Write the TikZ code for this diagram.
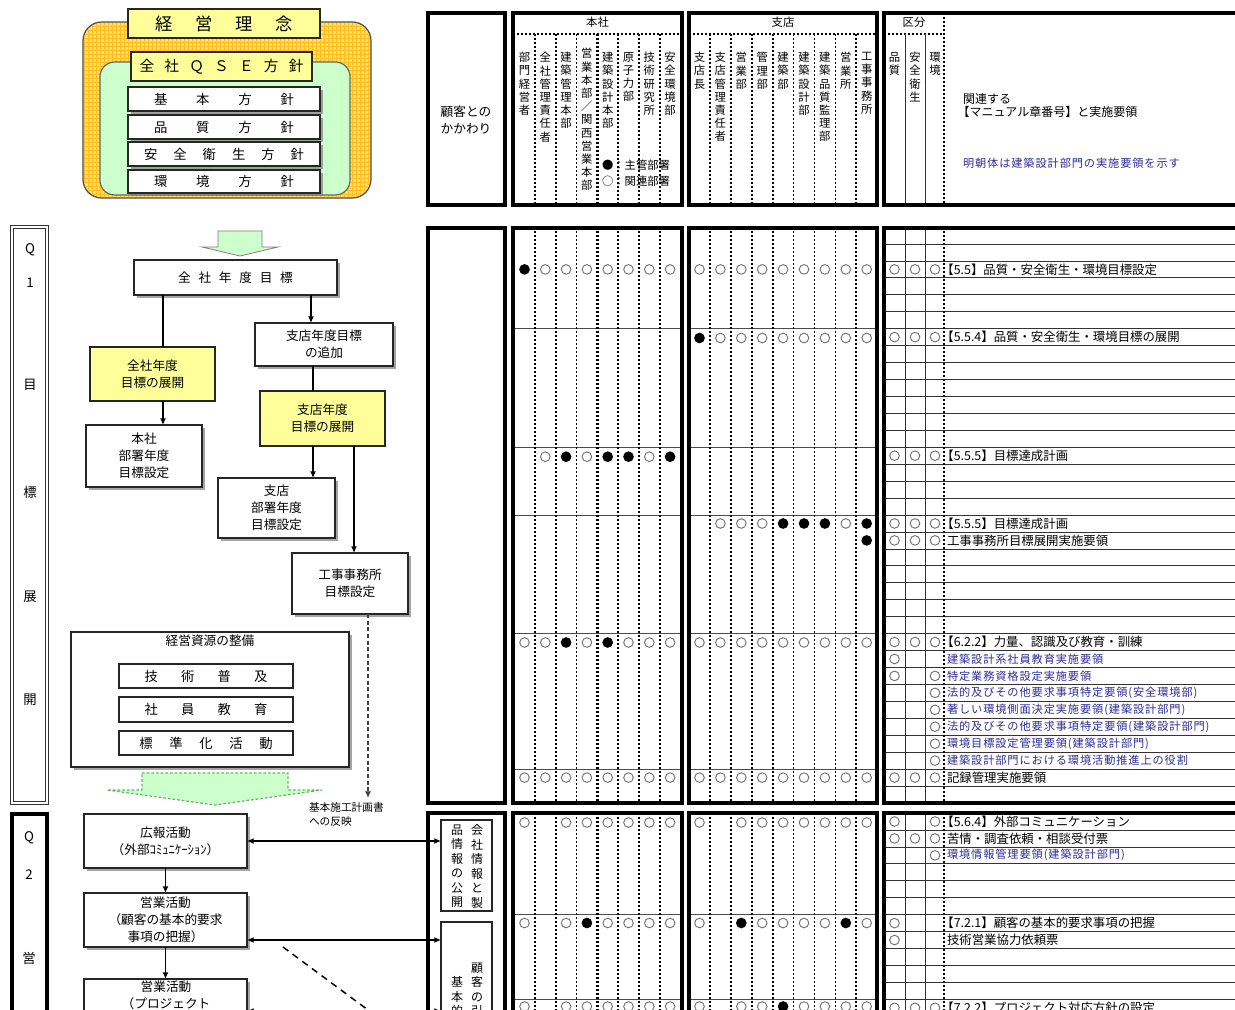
\documentclass[tikz,border=0pt]{standalone}
\usepackage{fontspec}
\setmainfont{Noto Sans CJK JP}
\newfontfamily\bluefam[LetterSpace=8]{Noto Sans CJK JP}
\usetikzlibrary{shadows,arrows.meta,patterns}
\definecolor{ylw}{RGB}{255,255,153}
\definecolor{orgf}{RGB}{255,222,110}
\definecolor{orgl}{RGB}{255,190,30}
\definecolor{lgrn}{RGB}{204,255,204}
\definecolor{dgrn}{RGB}{100,180,100}
\definecolor{btxt}{RGB}{45,45,150}
\newcommand\zzT{\fontsize{13}{15}\selectfont}
\newcommand\zzQ{\fontsize{11}{13}\selectfont}
\newcommand\zzP{\fontsize{10}{12}\selectfont}
\newcommand\zzF{\fontsize{9.5}{12.6}\selectfont}
\newcommand\zzV{\fontsize{8.5}{9.9}\selectfont}
\newcommand\zzR{\fontsize{9.3}{11}\selectfont}
\newcommand\zzB{\bluefam\fontsize{8.4}{10}\selectfont\color{btxt}}
\newcommand\zzS{\fontsize{8}{10.5}\selectfont}
\newcommand\zzL{\hspace*{-0.45em}}
\newcommand\mkbox[7]{%
  \pgfmathsetmacro\mkw{(#4-#2)*0.75}%
  \pgfmathsetmacro\mkh{(#5-#3)*0.75}%
  \node[#6, minimum width=\mkw pt, minimum height=\mkh pt, align=center] (#1) at ({(#2+#4)/2},{(#3+#5)/2}) {#7};}
\newcommand\hcirc[3]{%
  \foreach \t [count=\i] in {#2} {%
    \ifnum\t=1 \draw[oc] ({524.5+20.8*(\i-1)},#1) circle[radius=3.6pt];\fi
    \ifnum\t=2 \fill ({524.5+20.8*(\i-1)},#1) circle[radius=4pt];\fi}%
  \foreach \t [count=\i] in {#3} {%
    \ifnum\t=1 \draw[oc] ({699.5+20.9*(\i-1)},#1) circle[radius=3.6pt];\fi
    \ifnum\t=2 \fill ({699.5+20.9*(\i-1)},#1) circle[radius=4pt];\fi}}
\newcommand\rr[6]{%
  \pgfmathsetmacro\ry{#1+(#2+0.5)*16.94}%
  \ifnum#3=1 \draw[oc] (894.5,\ry) circle[radius=3.6pt];\fi
  \ifnum#4=1 \draw[oc] (915,\ry) circle[radius=3.6pt];\fi
  \ifnum#5=1 \draw[oc] (935,\ry) circle[radius=3.6pt];\fi
  \node[anchor=west,font=\zzR] at (947,\ry) {#6};}
\newcommand\mgrid[2]{%
  \foreach \k in {0,1,2,3,4,5,6} {\draw[dotv] ({535+20.8*\k},#1) -- ({535+20.8*\k},#2);}
  \draw[dotw] (535,#1) -- (535,#2);
  \draw[dotw] (597.4,#1) -- (597.4,#2);
  \foreach \k in {0,1,2,3,4,5,6,7} {\draw[dotv] ({710+20.9*\k},#1) -- ({710+20.9*\k},#2);}
  \draw[gl] (905,#1) -- (905,#2);
  \draw[gl] (925,#1) -- (925,#2);}
\begin{document}
\begin{tikzpicture}[x=0.75pt,y=-0.75pt,
  every node/.style={inner sep=0pt,outer sep=0pt},
  shad/.style={drop shadow={shadow xshift=2.5pt,shadow yshift=-2.5pt,fill=black!50,opacity=0.7}},
  fbox/.style={draw=black!85,line width=0.9pt,fill=white,shad},
  ybox/.style={draw=black!85,line width=0.9pt,fill=ylw},
  pbox/.style={draw=black!85,line width=0.9pt,fill=white},
  tbox/.style={draw=black,line width=2.6pt},
  dotv/.style={line width=1.3pt,dash pattern=on 1.4pt off 1.6pt},
  dotw/.style={line width=2pt,dash pattern=on 1.6pt off 1.4pt},
  gl/.style={line width=0.5pt,draw=black!80},
  oc/.style={draw=black!55,line width=0.7pt},
  arr/.style={line width=1pt,-{Latex[length=5pt,width=4.5pt]}},
  darr/.style={line width=1pt,{Latex[length=5pt,width=4.5pt]}-{Latex[length=5pt,width=4.5pt]}},
  ln/.style={line width=1pt}]
\fill[white] (0,0) rectangle (1235,1010);
\useasboundingbox (0,0) rectangle (1235,1010);
\clip (0,0) rectangle (1235,1010);

% ---------- policy block ----------
\draw[draw=black!70,line width=0.9pt,fill=orgf,rounded corners=14pt] (83,22) rectangle (371,198);
\fill[pattern=grid,pattern color=orgl,rounded corners=14pt] (84,23) rectangle (370,197);
\draw[draw=black!60,line width=0.9pt,fill=lgrn,rounded corners=11pt] (100,62) rectangle (350,195);
\mkbox{rinen}{128}{9}{320}{38}{ybox,font=\zzT}{\makebox[103pt]{経\hfill 営\hfill 理\hfill 念}}
\mkbox{qse}{131}{52}{312}{81}{ybox,font=\zzQ}{\makebox[123pt]{全\hfill 社\hfill Ｑ\hfill Ｓ\hfill Ｅ\hfill 方\hfill 針}}
\mkbox{kihon}{128}{87}{320}{111}{fbox,font=\zzP}{\makebox[105pt]{基\hfill 本\hfill 方\hfill 針}}
\mkbox{hinshitsu}{128}{115}{320}{139}{fbox,font=\zzP}{\makebox[105pt]{品\hfill 質\hfill 方\hfill 針}}
\mkbox{anzen}{128}{142}{320}{166}{fbox,font=\zzP}{\makebox[120pt]{安\hfill 全\hfill 衛\hfill 生\hfill 方\hfill 針}}
\mkbox{kankyo}{128}{170}{320}{193}{fbox,font=\zzP}{\makebox[105pt]{環\hfill 境\hfill 方\hfill 針}}

% ---------- header tables ----------
\node[font=\zzF,align=center] (kokyaku) at (466,120) {顧客との\\かかわり};
\node[font=\zzV] (hhon) at (597.5,22) {本社};
\node[font=\zzV] (hshi) at (783,22) {支店};
\node[font=\zzV] (hkub) at (914,22) {区分};
\draw[dotv] (513,34) -- (682,34);
\draw[dotv] (689,34) -- (877,34);
\draw[dotv] (884,34) -- (944,34);
\mgrid{34}{205}
\draw[dotv] (944,13) -- (944,205);
\begin{scope}[every node/.style={anchor=north,align=center,font=\zzV,inner sep=0pt}]
\node (h1) at (524.5,52) {部\\門\\経\\営\\者};
\node (h2) at (545.3,52) {全\\社\\管\\理\\責\\任\\者};
\node (h3) at (566.1,52) {建\\築\\管\\理\\本\\部};
\node (h4) at (586.9,48) {営\\業\\本\\部\\／\\関\\西\\営\\業\\本\\部};
\node (h5) at (607.7,52) {建\\築\\設\\計\\本\\部};
\node (h6) at (628.5,52) {原\\子\\力\\部};
\node (h7) at (649.3,52) {技\\術\\研\\究\\所};
\node (h8) at (670.1,52) {安\\全\\環\\境\\部};
\node (s1) at (699.5,52) {支\\店\\長};
\node (s2) at (720.4,52) {支\\店\\管\\理\\責\\任\\者};
\node (s3) at (741.3,52) {営\\業\\部};
\node (s4) at (762.2,52) {管\\理\\部};
\node (s5) at (783.1,52) {建\\築\\部};
\node (s6) at (804,52) {建\\築\\設\\計\\部};
\node (s7) at (824.9,52) {建\\築\\品\\質\\監\\理\\部};
\node (s8) at (845.8,52) {営\\業\\所};
\node (s9) at (866.7,52) {工\\事\\事\\務\\所};
\node (k1) at (894.5,52) {品\\質};
\node (k2) at (915,52) {安\\全\\衛\\生};
\node (k3) at (935,52) {環\\境};
\end{scope}
\node[anchor=west,font=\zzV] (leg1) at (602,165) {●：主管部署};
\node[anchor=west,font=\zzV] (leg2) at (602,181) {○：関連部署};
\node[anchor=north west,font=\fontsize{9}{9.9}\selectfont,align=left] (kanren) at (963,93) {関連する\\\zzL【マニュアル章番号】と実施要領};
\node[anchor=west,font=\zzB] (mincho) at (963,163) {明朝体は建築設計部門の実施要領を示す};
\draw[tbox] (428,13) rectangle (505,205);
\draw[tbox] (513,13) rectangle (682,205);
\draw[tbox] (689,13) rectangle (877,205);
\draw[tbox] (884,13) rectangle (1245,205);

% ---------- Q1 tables ----------
\foreach \k in {1,...,33} {\draw[gl] (884,{227+\k*16.94}) -- (1245,{227+\k*16.94});}
\foreach \k in {6,13,17,24,32} {\draw[gl,draw=black!70] (513,{227+\k*16.94}) -- (682,{227+\k*16.94});
  \draw[gl,draw=black!70] (689,{227+\k*16.94}) -- (877,{227+\k*16.94});}
\mgrid{227}{803}
\draw[dotv] (944,227) -- (944,803);
\hcirc{269.4}{2,1,1,1,1,1,1,1}{1,1,1,1,1,1,1,1,1}
\hcirc{338.0}{0,0,0,0,0,0,0,0}{2,1,1,1,1,1,1,1,1}
\hcirc{456.7}{0,1,2,1,2,2,1,2}{0,0,0,0,0,0,0,0,0}
\hcirc{523.5}{0,0,0,0,0,0,0,0}{0,1,1,1,2,2,2,1,2}
\hcirc{540.4}{0,0,0,0,0,0,0,0}{0,0,0,0,0,0,0,0,2}
\hcirc{642.5}{1,1,2,1,2,1,1,1}{1,1,1,1,1,1,1,1,1}
\hcirc{777.6}{1,1,1,1,1,1,1,1}{1,1,1,1,1,1,1,1,1}
\rr{227}{2}{1}{1}{1}{\zzL【5.5】品質・安全衛生・環境目標設定}
\rr{227}{6}{1}{1}{1}{\zzL【5.5.4】品質・安全衛生・環境目標の展開}
\rr{227}{13}{1}{1}{1}{\zzL【5.5.5】目標達成計画}
\rr{227}{17}{1}{1}{1}{\zzL【5.5.5】目標達成計画}
\rr{227}{18}{1}{1}{1}{工事事務所目標展開実施要領}
\rr{227}{24}{1}{1}{1}{\zzL【6.2.2】力量、認識及び教育・訓練}
\rr{227}{25}{1}{0}{0}{\zzB 建築設計系社員教育実施要領}
\rr{227}{26}{1}{0}{1}{\zzB 特定業務資格設定実施要領}
\rr{227}{27}{0}{0}{1}{\zzB 法的及びその他要求事項特定要領(安全環境部)}
\rr{227}{28}{0}{0}{1}{\zzB 著しい環境側面決定実施要領(建築設計部門)}
\rr{227}{29}{0}{0}{1}{\zzB 法的及びその他要求事項特定要領(建築設計部門)}
\rr{227}{30}{0}{0}{1}{\zzB 環境目標設定管理要領(建築設計部門)}
\rr{227}{31}{0}{0}{1}{\zzB 建築設計部門における環境活動推進上の役割}
\rr{227}{32}{1}{1}{1}{記録管理実施要領}
\draw[tbox] (428,228) rectangle (505,803);
\draw[tbox] (513,228) rectangle (682,803);
\draw[tbox] (689,228) rectangle (877,803);
\draw[tbox] (884,228) rectangle (1245,803);

% ---------- Q2 tables ----------
\foreach \k in {1,...,12} {\draw[gl] (884,{813+\k*16.94}) -- (1245,{813+\k*16.94});}
\foreach \k in {6,11} {\draw[gl,draw=black!70] (513,{813+\k*16.94}) -- (682,{813+\k*16.94});
  \draw[gl,draw=black!70] (689,{813+\k*16.94}) -- (877,{813+\k*16.94});}
\mgrid{813}{1030}
\draw[dotv] (944,813) -- (944,1030);
\hcirc{822.5}{1,0,1,1,1,1,1,1}{1,0,1,1,1,1,1,1,1}
\hcirc{923.0}{1,0,1,2,1,1,1,1}{1,0,2,1,1,1,1,2,1}
\hcirc{1006.5}{1,0,1,1,1,1,1,1}{1,0,1,1,2,1,1,1,1}
\rr{813}{0}{1}{0}{1}{\zzL【5.6.4】外部コミュニケーション}
\rr{813}{1}{1}{1}{1}{苦情・調査依頼・相談受付票}
\rr{813}{2}{0}{0}{1}{\zzB 環境情報管理要領(建築設計部門)}
\rr{813}{6}{1}{0}{0}{\zzL【7.2.1】顧客の基本的要求事項の把握}
\rr{813}{7}{1}{0}{0}{技術営業協力依頼票}
\rr{813}{11}{1}{1}{1}{\zzL【7.2.2】プロジェクト対応方針の設定}
\draw[tbox] (428,813) rectangle (505,1040);
\draw[tbox] (513,813) rectangle (682,1040);
\draw[tbox] (689,813) rectangle (877,1040);
\draw[tbox] (884,813) rectangle (1245,1040);

% ---------- section labels ----------
\draw[draw=black!80,double,double distance=1.3pt,line width=0.5pt] (12,227) rectangle (47,803);
\begin{scope}[every node/.style={font=\zzP}]
\node (q1a) at (30,250) {Q};
\node (q1b) at (30,283) {1};
\node (q1c) at (30,385) {目};
\node (q1d) at (30,492) {標};
\node (q1e) at (30,597) {展};
\node (q1f) at (30,700) {開};
\node (q2a) at (29,838) {Q};
\node (q2b) at (29,875) {2};
\node (q2c) at (29,958) {営};
\end{scope}
\draw[line width=2.4pt] (12,814) rectangle (47,1040);

% ---------- Q1 flow ----------
\draw[draw=black!50,fill=lgrn,line width=0.6pt] (218,231) -- (262,231) -- (262,247) -- (278,247) -- (240,256) -- (202,247) -- (218,247) -- cycle;
\mkbox{zen}{134}{260}{337}{295}{fbox,font=\zzF}{\makebox[86pt]{全\hfill 社\hfill 年\hfill 度\hfill 目\hfill 標}}
\mkbox{sit}{255}{323}{393}{366}{fbox,font=\zzF}{支店年度目標\\の追加}
\mkbox{zent}{90}{347}{215}{401}{ybox,font=\zzF}{全社年度\\目標の展開}
\mkbox{hon}{86}{425}{202}{487}{fbox,font=\zzF}{本社\\部署年度\\目標設定}
\mkbox{sitt}{260}{391}{385}{446}{ybox,font=\zzF}{支店年度\\目標の展開}
\mkbox{sib}{218}{478}{335}{538}{fbox,font=\zzF}{支店\\部署年度\\目標設定}
\mkbox{koj}{292}{553}{408}{614}{fbox,font=\zzF}{工事事務所\\目標設定}
\mkbox{kei}{71}{632}{349}{767}{fbox}{}
\node[font=\zzF] (keit) at (210,641) {経営資源の整備};
\mkbox{gij}{119}{664}{293}{688}{pbox,font=\zzP}{\makebox[92pt]{技\hfill 術\hfill 普\hfill 及}}
\mkbox{sha}{119}{697}{293}{722}{pbox,font=\zzP}{\makebox[92pt]{社\hfill 員\hfill 教\hfill 育}}
\mkbox{hyo}{119}{731}{293}{755}{pbox,font=\zzP}{\makebox[100pt]{標\hfill 準\hfill 化\hfill 活\hfill 動}}
\draw[dgrn,fill=lgrn,line width=0.9pt,dash pattern=on 2pt off 1.5pt] (142,773) -- (288,773) -- (288,790) -- (322,790) -- (215,805) -- (107,790) -- (142,790) -- cycle;
\coordinate (x163) at (163,0);
\coordinate (x311) at (311,0);
\coordinate (x313) at (313,0);
\coordinate (x354) at (354,0);
\coordinate (x368) at (368,0);
\coordinate (hanei) at (368,798);
\draw[ln] (zen.south -| x163) -- (zent.north -| x163);
\draw[arr] (zen.south -| x311) -- (sit.north -| x311);
\draw[arr] (zent.south -| x163) -- (hon.north -| x163);
\draw[ln] (sit.south -| x313) -- (sitt.north -| x313);
\draw[arr] (sitt.south -| x313) -- (sib.north -| x313);
\draw[arr] (sitt.south -| x354) -- (koj.north -| x354);
\draw[line width=0.8pt,draw=black!75,dash pattern=on 3pt off 2pt,-{Latex[length=5pt,width=4.5pt]}] (koj.south -| x368) -- (hanei);
\node[anchor=north west,font=\zzS,align=left] (hlab) at (309,803) {基本施工計画書\\への反映};

% ---------- Q2 flow ----------
\mkbox{kou}{84}{814}{247}{868}{fbox,font=\zzF}{広報活動\\（外部ｺﾐｭﾆｹｰｼｮﾝ）}
\mkbox{ei1}{84}{893}{247}{947}{fbox,font=\zzF}{営業活動\\（顧客の基本的要求\\事項の把握）}
\mkbox{ei2}{84}{979}{247}{1045}{fbox}{}
\node[anchor=north,font=\zzF,align=center] (ei2t) at (166,981) {営業活動\\（プロジェクト};
\mkbox{inf1}{441}{820}{492}{911}{pbox}{}
\mkbox{inf2}{441}{922}{492}{1045}{pbox}{}
\begin{scope}[every node/.style={anchor=north,align=center,font=\fontsize{9}{10.9}\selectfont}]
\node (i1r) at (477,820) {会\\社\\情\\報\\と\\製};
\node (i1l) at (457,820) {品\\情\\報\\の\\公\\開};
\node (i2r) at (477,958) {顧\\客\\の\\引};
\node (i2l) at (457,972) {基\\本\\的};
\end{scope}
\coordinate (y940) at (0,940);
\coordinate (y1011) at (0,1011);
\draw[arr] (kou.south) -- (ei1.north);
\draw[arr] (ei1.south) -- (ei2.north);
\draw[darr] (kou.east) -- (kou.east -| inf1.west);
\draw[darr] (ei1.east |- y940) -- (inf2.west |- y940);
\draw[darr] (ei2.east |- y1011) -- (inf2.west |- y1011);
\coordinate (dg1) at (283,947);
\coordinate (dg2) at (395,1030);
\draw[line width=1.1pt,dash pattern=on 5pt off 4pt] (dg1) -- (dg2);
\end{tikzpicture}
\end{document}
